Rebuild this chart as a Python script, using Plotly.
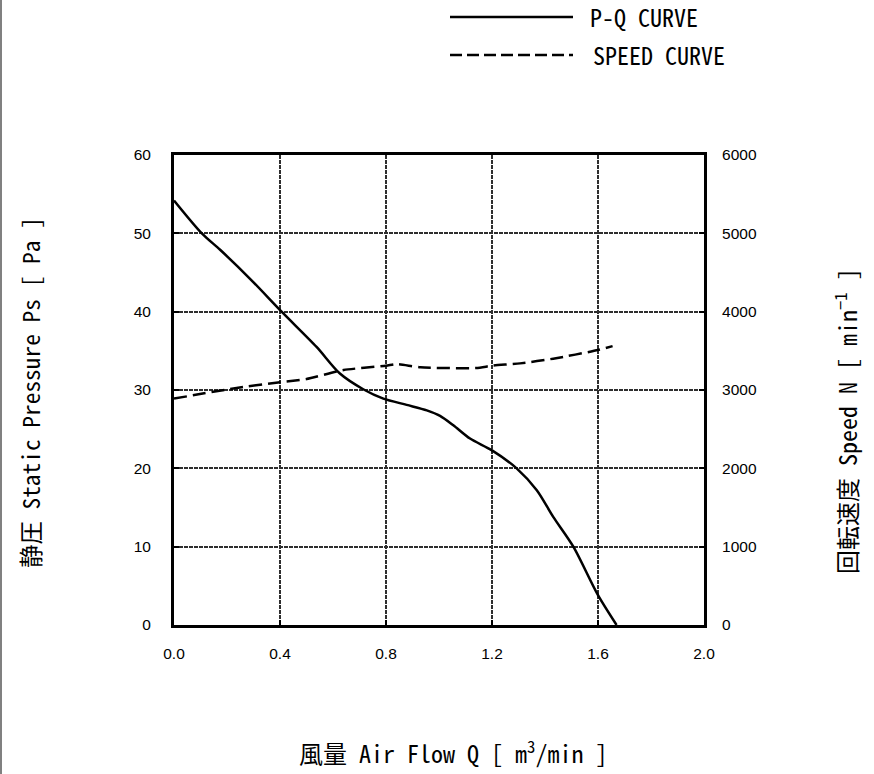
import plotly.graph_objects as go

# P-Q curve data (air flow m3/min, static pressure Pa)
pq_flow = [0.0, 0.105, 0.174, 0.287, 0.406, 0.538, 0.626, 0.714, 0.79, 0.878,
           0.954, 1.004, 1.054, 1.117, 1.2, 1.293, 1.369, 1.431, 1.507, 1.6, 1.67]
pq_pressure = [54.2, 50.0, 47.9, 44.2, 40.0, 35.5, 32.1, 30.1, 28.9, 28.1,
               27.4, 26.7, 25.5, 23.8, 22.3, 20.0, 17.2, 13.8, 10.0, 3.8, 0.0]

# Speed curve data (air flow m3/min, speed min^-1)
sp_flow = [0.0, 0.224, 0.4, 0.5, 0.64, 0.8, 0.84, 0.93, 1.14, 1.2, 1.306, 1.431, 1.6, 1.655]
sp_speed = [2890, 3020, 3100, 3140, 3255, 3310, 3330, 3290, 3280, 3310, 3340, 3400, 3510, 3560]

x_ticks = [0.0, 0.4, 0.8, 1.2, 1.6, 2.0]
y_ticks = [0, 10, 20, 30, 40, 50, 60]
y2_ticks = [0, 1000, 2000, 3000, 4000, 5000, 6000]

TITLE_FONT = "Noto Sans Mono CJK JP, Liberation Mono, monospace"
TICK_FONT = "Liberation Sans, Arial, sans-serif"

W, H = 874, 774
L, R, T, B = 174, 170, 155, 149
PW, PH = W - L - R, H - T - B


def px(x):
    return (x - L) / PW


def py(y):
    return (H - B - y) / PH


fig = go.Figure()
fig.add_trace(go.Scatter(x=pq_flow, y=pq_pressure, mode="lines", name="P-Q CURVE",
                         line=dict(color="black", width=2.5, shape="spline", smoothing=0.8),
                         showlegend=False, hoverinfo="skip"))
fig.add_trace(go.Scatter(x=sp_flow, y=sp_speed, mode="lines", name="SPEED CURVE", yaxis="y2",
                         line=dict(color="black", width=2.5, dash="13px,6px", shape="spline", smoothing=0.6),
                         showlegend=False, hoverinfo="skip"))

grid = dict(showgrid=True, gridcolor="#2e2e2e", gridwidth=2, griddash="4px,1px")

fig.update_layout(
    width=W, height=H,
    margin=dict(l=L, r=R, t=T, b=B),
    paper_bgcolor="white", plot_bgcolor="white",
    showlegend=False,
    xaxis=dict(range=[0, 2.0], tickvals=x_ticks, ticktext=[f"{v:.1f}" for v in x_ticks],
               showline=True, linecolor="black", linewidth=3, mirror=True,
               ticks="inside", ticklen=5, tickwidth=2, tickcolor="black",
               ticklabelstandoff=12, zeroline=False,
               tickfont=dict(family=TICK_FONT, size=15.5, color="black"), **grid),
    yaxis=dict(range=[0, 60], tickvals=y_ticks,
               showline=True, linecolor="black", linewidth=3, mirror=True,
               ticks="inside", ticklen=5, tickwidth=2, tickcolor="black",
               ticklabelstandoff=17, zeroline=False,
               tickfont=dict(family=TICK_FONT, size=15.5, color="black"), **grid),
    yaxis2=dict(range=[0, 6000], tickvals=y2_ticks, overlaying="y", side="right",
                showline=True, linecolor="black", linewidth=3, showgrid=False,
                ticks="inside", ticklen=5, tickwidth=2, tickcolor="black",
                ticklabelstandoff=12, zeroline=False,
                tickfont=dict(family=TICK_FONT, size=15.5, color="black")),
)

shapes = [
    # page border line at left
    dict(type="line", xref="paper", yref="paper", x0=px(1), x1=px(1),
         y0=py(0), y1=py(H), line=dict(color="#808080", width=2)),
    # legend samples
    dict(type="line", xref="paper", yref="paper", x0=px(450), x1=px(573), y0=py(17), y1=py(17),
         line=dict(color="black", width=2.5)),
    dict(type="line", xref="paper", yref="paper", x0=px(450), x1=px(573), y0=py(55), y1=py(55),
         line=dict(color="black", width=2.5, dash="12px,5px")),
]
fig.update_layout(shapes=shapes)

ann_font = dict(family=TITLE_FONT, size=24, color="black")
annotations = [
    dict(text="P-Q CURVE", x=px(588), y=py(17), xref="paper", yref="paper",
         xanchor="left", yanchor="middle", showarrow=False, font=ann_font),
    dict(text="SPEED CURVE", x=px(591), y=py(55), xref="paper", yref="paper",
         xanchor="left", yanchor="middle", showarrow=False, font=ann_font),
    dict(text="風量 Air Flow Q [ m<sup>3</sup>/min ]", x=px(453), y=py(752), xref="paper", yref="paper",
         xanchor="center", yanchor="middle", showarrow=False, font=ann_font),
    dict(text="静圧 Static Pressure Ps [ Pa ]", x=px(30), y=py(393), xref="paper", yref="paper",
         xanchor="center", yanchor="middle", showarrow=False, textangle=-90,
         font=dict(family=TITLE_FONT, size=23.4, color="black")),
    dict(text="回転速度 Speed N [ min<sup>−1</sup> ]", x=px(846), y=py(421), xref="paper", yref="paper",
         xanchor="center", yanchor="middle", showarrow=False, textangle=-90, font=ann_font),
]
fig.update_layout(annotations=annotations)

fig.write_html("out.html", config={"displayModeBar": False},
               post_script="document.body.style.margin='0';document.body.style.overflow='hidden';")
